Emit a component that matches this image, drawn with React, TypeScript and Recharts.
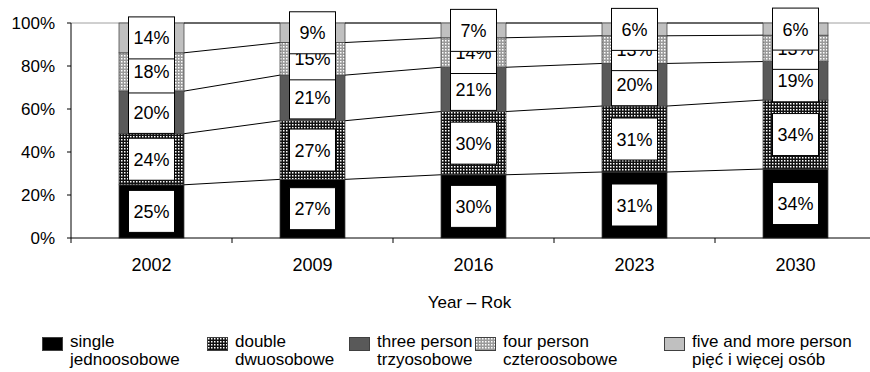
import { Bar, BarChart, CartesianGrid, XAxis, YAxis } from 'recharts'

const YEARS = ['2002', '2009', '2016', '2023', '2030']
const SINGLE = [25, 27, 30, 31, 34]
const DOUBLE = [24, 27, 30, 31, 34]
const THREE = [20, 21, 21, 20, 19]
const FOUR = [18, 15, 14, 13, 13]
const FIVE = [14, 9, 7, 6, 6]
const Y_TICKS = [0, 0.2, 0.4, 0.6, 0.8, 1]

const SERIES = [
  { key: 'single', values: SINGLE, fill: '#000000', en: 'single', pl: 'jednoosobowe' },
  { key: 'double', values: DOUBLE, fill: 'url(#patDouble)', en: 'double', pl: 'dwuosobowe' },
  { key: 'three', values: THREE, fill: '#595959', en: 'three person', pl: 'trzyosobowe' },
  { key: 'four', values: FOUR, fill: 'url(#patFour)', en: 'four person', pl: 'czteroosobowe' },
  { key: 'five', values: FIVE, fill: '#c0c0c0', en: 'five and more person', pl: 'pięć i więcej osób' },
]

const FONT = '"Liberation Sans", Arial, sans-serif'
const CHART_W = 876
const CHART_H = 318
const YAXIS_W = 71
const MARGIN = { top: 23, right: 0, bottom: 0, left: 0 }
const BAND = (CHART_W - YAXIS_W - MARGIN.left - MARGIN.right) / YEARS.length
const LEGEND_X = [70, 235, 377, 503, 692]

const data = YEARS.map((year, i) => {
  const row: Record<string, string | number> = { year }
  SERIES.forEach((s) => {
    row[s.key] = s.values[i]
  })
  return row
})

// cumulative share (bottom, top) of series s in year i
function bounds(i: number, s: number): [number, number] {
  const total = SERIES.reduce((a, ser) => a + ser.values[i], 0)
  let lo = 0
  for (let j = 0; j < s; j++) lo += SERIES[j].values[i]
  return [lo / total, (lo + SERIES[s].values[i]) / total]
}

function Segment(props: any) {
  const { x, y, width, height, index, s } = props
  const [c0, c1] = bounds(index, s)
  const unit = height / (c1 - c0)
  const base = y + height + c0 * unit
  const hasNext = index < YEARS.length - 1
  const yNext = hasNext ? base - bounds(index + 1, s)[1] * unit : 0
  const cx = x + width / 2
  const cy = y + height / 2
  const boxW = 46
  const boxH = 42
  return (
    <g>
      <rect x={x} y={y} width={width} height={height} fill={SERIES[s].fill} stroke="#404040" strokeWidth={0.75} />
      {hasNext && (
        <line x1={x + width} y1={y} x2={x + BAND} y2={yNext} stroke="#000" strokeWidth={1} />
      )}
      <rect x={cx - boxW / 2} y={cy - boxH / 2} width={boxW} height={boxH} fill="#fff" stroke="#000" strokeWidth={1} />
      <text x={cx} y={cy + 6.5} textAnchor="middle" fontSize={18} fontFamily={FONT} fill="#000">
        {`${SERIES[s].values[index]}%`}
      </text>
    </g>
  )
}

function YearTick(props: any) {
  const { x, y, payload, index } = props
  return (
    <g>
      <line x1={x - BAND / 2} x2={x - BAND / 2} y1={y} y2={y + 5} stroke="#000" />
      {index === YEARS.length - 1 && (
        <line x1={x + BAND / 2} x2={x + BAND / 2} y1={y} y2={y + 5} stroke="#000" />
      )}
      <text x={x} y={y + 33} textAnchor="middle" fontSize={18} fontFamily={FONT} fill="#000">
        {payload.value}
      </text>
    </g>
  )
}

export default function App() {
  return (
    <div style={{ position: 'absolute', left: 0, top: 0, width: 870, height: 372, overflow: 'hidden', background: '#fff', fontFamily: FONT }}>
      <BarChart
        width={CHART_W}
        height={CHART_H}
        data={data}
        stackOffset="expand"
        margin={MARGIN}
      >
        <defs>
          <pattern id="patDouble" width={3} height={3} patternUnits="userSpaceOnUse">
            <rect width={3} height={3} fill="#111" />
            <rect x={1} y={1} width={1.5} height={1.5} fill="#fff" />
          </pattern>
          <pattern id="patFour" width={3} height={3} patternUnits="userSpaceOnUse">
            <rect width={3} height={3} fill="#9a9a9a" />
            <rect x={1} y={1} width={1.5} height={1.5} fill="#fff" />
          </pattern>
        </defs>
        <CartesianGrid vertical={false} horizontalValues={[1]} stroke="#a0a0a0" />
        <XAxis
          dataKey="year"
          stroke="#000"
          tickLine={false}
          tickSize={0}
          tickMargin={0}
          height={80}
          tick={<YearTick />}
          label={{ value: 'Year – Rok', position: 'insideBottom', offset: 10, fontSize: 17, fill: '#000', fontFamily: FONT, dx: -4 }}
        />
        <YAxis
          width={YAXIS_W}
          domain={[0, 1]}
          ticks={Y_TICKS}
          stroke="#000"
          tickSize={4}
          tickMargin={12}
          tick={{ fontSize: 17, fill: '#000', fontFamily: FONT }}
          tickFormatter={(v: number) => `${Math.round(v * 100)}%`}
        />
        {SERIES.map((ser, s) => (
          <Bar
            key={ser.key}
            dataKey={ser.key}
            stackId="a"
            barSize={65}
            isAnimationActive={false}
            shape={(p: any) => <Segment {...p} s={s} />}
          />
        ))}
      </BarChart>
      {SERIES.map((ser, s) => (
        <div key={ser.key} style={{ position: 'absolute', left: LEGEND_X[s] - 28, top: 333 }}>
          <svg width={21} height={14} style={{ position: 'absolute', left: 0, top: 4 }}>
            <rect x={0.5} y={0.5} width={20} height={13} fill={ser.fill} stroke="#404040" strokeWidth={1} />
          </svg>
          <div style={{ position: 'absolute', left: 28, top: 0, fontSize: 17, lineHeight: '17px', whiteSpace: 'nowrap', color: '#000' }}>
            {ser.en}
          </div>
          <div style={{ position: 'absolute', left: 28, top: 18, fontSize: 17, lineHeight: '17px', whiteSpace: 'nowrap', color: '#000' }}>
            {ser.pl}
          </div>
        </div>
      ))}
    </div>
  )
}
